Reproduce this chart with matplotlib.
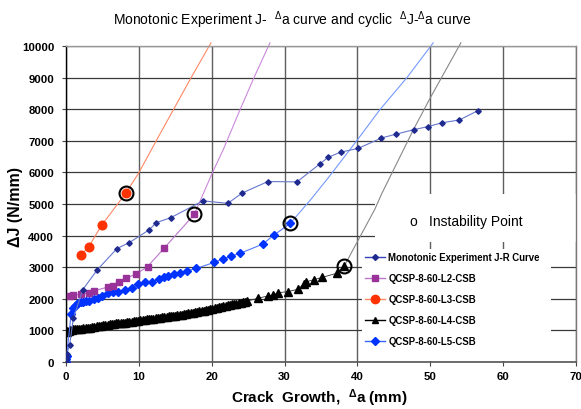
import matplotlib
matplotlib.use("Agg")
import matplotlib.pyplot as plt
from matplotlib.lines import Line2D
from matplotlib.patches import Rectangle

plt.rcParams['font.family'] = ['Liberation Sans', 'DejaVu Sans']
plt.rcParams['mathtext.fontset'] = 'custom'
plt.rcParams['mathtext.rm'] = 'Liberation Sans'
plt.rcParams['mathtext.bf'] = 'Liberation Sans:bold'
plt.rcParams['mathtext.it'] = 'Liberation Sans:italic'

# ---------------- data ----------------
x_ticks = [0, 10, 20, 30, 40, 50, 60, 70]
y_ticks = [0, 1000, 2000, 3000, 4000, 5000, 6000, 7000, 8000, 9000, 10000]

series_labels = ["Monotonic Experiment J-R Curve", "QCSP-8-60-L2-CSB",
                 "QCSP-8-60-L3-CSB", "QCSP-8-60-L4-CSB", "QCSP-8-60-L5-CSB"]

mono_x = [0.0, 0.0, 0.0, 0.1, 0.5, 1.0, 2.3, 4.3, 7.0, 8.7, 11.4, 12.4, 14.4,
          18.8, 22.2, 24.2, 27.7, 31.7, 34.9, 36.0, 37.7, 40.1, 43.3, 45.3,
          47.7, 49.7, 51.6, 54.0, 56.5]
mono_y = [0, 80, 160, 260, 530, 1380, 2290, 2920, 3590, 3780, 4180, 4410, 4570,
          5100, 5020, 5350, 5710, 5700, 6280, 6480, 6640, 6760, 7090, 7210,
          7350, 7450, 7570, 7660, 7950]

l2_x = [0.6, 1.0, 2.0, 3.1, 3.8, 5.7, 6.5, 7.3, 8.2, 9.6, 11.2, 13.5, 17.6]
l2_y = [2100, 2120, 2140, 2180, 2250, 2370, 2410, 2520, 2650, 2780, 3020, 3610, 4670]
l2_ext_x = [17.6, 20.0, 21.6, 23.9, 25.9, 28.0]
l2_ext_y = [4670, 5940, 6730, 7990, 9050, 10100]

l3_x = [2.0, 3.1, 4.9, 8.2]
l3_y = [3380, 3640, 4330, 5340]
l3_ext_x = [8.2, 10.0, 12.5, 17.3, 19.9]
l3_ext_y = [5340, 5990, 7050, 9050, 10100]

l4_x = [0.1, 0.2, 0.4, 0.6, 0.8, 1.0, 1.2, 1.5, 1.8, 2.1, 2.4, 2.7, 3.0, 3.3,
        3.6, 3.9, 4.2, 4.5, 4.8, 5.1, 5.4, 5.7, 6.0, 6.3, 6.6, 6.9, 7.2, 7.5,
        7.8, 8.1, 8.4, 8.7, 9.0, 9.3, 9.6, 9.9, 10.2, 10.5, 10.8, 11.1, 11.4,
        11.7, 12.0, 12.3, 12.6, 12.9, 13.2, 13.5, 13.8, 14.1, 14.4, 14.7, 15.0,
        15.3, 15.6, 15.9, 16.2, 16.5, 16.8, 17.1, 17.4, 17.7, 18.0, 18.3, 18.6,
        18.9, 19.2, 19.5, 19.8, 20.1, 20.4, 20.7, 21.0, 21.3, 21.6, 21.9, 22.2,
        22.5, 22.8, 23.1, 23.4, 23.7, 24.0, 24.3, 24.6, 24.9, 26.4, 27.7, 28.4,
        29.1, 30.5, 31.8, 32.6, 33.0, 34.1, 35.2, 37.2, 38.2]
l4_y = [940, 970, 990, 1000, 1010, 1030, 1030, 1040, 1050, 1060, 1070, 1080,
        1090, 1090, 1110, 1120, 1130, 1140, 1150, 1160, 1160, 1180, 1190, 1200,
        1210, 1220, 1220, 1240, 1250, 1250, 1270, 1280, 1280, 1300, 1300, 1310,
        1320, 1330, 1340, 1350, 1350, 1370, 1370, 1380, 1400, 1400, 1410, 1430,
        1430, 1440, 1450, 1460, 1470, 1480, 1490, 1500, 1510, 1520, 1540, 1550,
        1560, 1570, 1580, 1600, 1610, 1620, 1640, 1650, 1670, 1680, 1700, 1710,
        1730, 1740, 1760, 1770, 1790, 1810, 1820, 1840, 1850, 1870, 1880, 1900,
        1910, 1930, 2020, 2090, 2120, 2190, 2230, 2300, 2460, 2540, 2610, 2680,
        2810, 3040]
l4_ext_x = [38.2, 42.4, 43.3, 47.7, 50.0, 54.2]
l4_ext_y = [3040, 4840, 5310, 7360, 8360, 10100]

l5_x = [0.0, 0.0, 0.1, 0.7, 0.9, 1.2, 1.5, 1.7, 2.0, 2.4, 2.7, 3.1, 3.8, 4.4,
        5.0, 5.8, 6.5, 7.2, 8.1, 9.0, 9.9, 10.8, 11.8, 12.7, 13.4, 14.0, 14.8,
        15.7, 16.6, 17.9, 20.3, 21.5, 22.7, 23.9, 27.0, 28.5, 30.8]
l5_y = [0, 100, 200, 1520, 1700, 1780, 1830, 1860, 1890, 1910, 1920, 1940,
        1990, 2040, 2100, 2180, 2200, 2220, 2280, 2350, 2470, 2520, 2540, 2620,
        2680, 2730, 2780, 2830, 2890, 2960, 3150, 3260, 3360, 3440, 3730, 4010,
        4390]
l5_ext_x = [30.8, 33.7, 36.2, 39.9, 43.1, 46.8, 50.4]
l5_ext_y = [4390, 5170, 5890, 7000, 7990, 9000, 10100]

# ---------------- figure ----------------
fig = plt.figure(figsize=(5.81, 4.10), dpi=100)
ax = fig.add_axes([66 / 581, 47 / 410, 510 / 581, 316 / 410])
ax.set_xlim(0, 70)
ax.set_ylim(0, 10000)
ax.set_xticks(x_ticks)
ax.set_yticks(y_ticks)
ax.set_axisbelow(True)
ax.grid(axis='y', color='#3a3a3a', lw=0.9)
ax.grid(axis='x', color='#5e5e5e', lw=1.0)

for side, col, lw in [('left', '#000000', 1.0), ('bottom', '#555555', 1.2),
                      ('top', '#999999', 1.0), ('right', '#777777', 1.0)]:
    ax.spines[side].set_color(col)
    ax.spines[side].set_linewidth(lw)

ax.tick_params(axis='both', length=3, width=0.8, color='#444444',
               labelsize=8.2, direction='out')
ax.tick_params(axis='x', pad=3.2)
ax.tick_params(axis='y', pad=5.5)
for lab in ax.get_xticklabels() + ax.get_yticklabels():
    lab.set_fontweight('bold')

# white panels for the annotation and the legend
ax.add_patch(Rectangle((0.606, 0.380), 0.394, 0.152, transform=ax.transAxes,
                       facecolor='white', edgecolor='none', zorder=1))
ax.add_patch(Rectangle((0.580, 0.003), 0.371, 0.355, transform=ax.transAxes,
                       facecolor='white', edgecolor='none', zorder=1))

# extrapolated continuation of each cyclic curve
ax.plot(l2_ext_x, l2_ext_y, color='#cc88dd', lw=0.8, zorder=2, clip_on=False)
ax.plot(l3_ext_x, l3_ext_y, color='#ff8866', lw=0.8, zorder=2, clip_on=False)
ax.plot(l4_ext_x, l4_ext_y, color='#888888', lw=0.8, zorder=2, clip_on=False)
ax.plot(l5_ext_x, l5_ext_y, color='#7799ff', lw=0.8, zorder=2, clip_on=False)

# measured curves
ax.plot(l4_x, l4_y, color='#333333', lw=0.6, marker='^', ms=5.6,
        mfc='black', mec='black', zorder=3)
ax.plot(l5_x, l5_y, color='#5577ff', lw=0.8, marker='D', ms=4.4,
        mfc='#0033ff', mec='#0033ff', zorder=3)
ax.plot(l2_x, l2_y, color='#bb77cc', lw=0.8, marker='s', ms=4,
        mfc='#993399', mec='#993399', zorder=3)
ax.plot(l3_x, l3_y, color='#ff8866', lw=0.8, marker='o', ms=6.2,
        mfc='#ff3300', mec='#ff3300', zorder=3)
ax.plot(mono_x, mono_y, color='#6677cc', lw=0.8, marker='D', ms=2.8,
        mfc='#1f2a8f', mec='#1f2a8f', zorder=4)

# instability points
inst_x = [l3_x[-1], l2_x[-1], l5_x[-1], l4_x[-1]]
inst_y = [l3_y[-1], l2_y[-1], l5_y[-1], l4_y[-1]]
ax.plot(inst_x, inst_y, linestyle='none', marker='o', ms=10, mfc='none',
        mec='black', mew=1.5, zorder=5)

ax.text(0.680, 0.446, 'o', transform=ax.transAxes, fontsize=10,
        ha='center', va='center', zorder=6)
ax.text(0.712, 0.446, 'Instability Point', transform=ax.transAxes,
        fontsize=10, ha='left', va='center', zorder=6)

handles = [
    Line2D([], [], color='#3344bb', lw=1.0, marker='D', ms=3, mfc='#1f2a8f', mec='#1f2a8f'),
    Line2D([], [], color='#bb77cc', lw=1.0, marker='s', ms=4, mfc='#993399', mec='#993399'),
    Line2D([], [], color='#ff8866', lw=1.0, marker='o', ms=6, mfc='#ff3300', mec='#ff3300'),
    Line2D([], [], color='black', lw=1.0, marker='^', ms=5, mfc='black', mec='black'),
    Line2D([], [], color='#3366ff', lw=1.0, marker='D', ms=4, mfc='#0033ff', mec='#0033ff'),
]
leg = ax.legend(handles, series_labels, loc='upper left',
                bbox_to_anchor=((362 - 66) / 510, (363 - 250) / 316),
                frameon=False, prop={'size': 6.9, 'weight': 'bold'},
                handlelength=2.1, handletextpad=0.35, labelspacing=1.15,
                borderpad=0.3, borderaxespad=0, numpoints=1)
leg.set_zorder(6)

fig.text(292 / 581, 1 - 20.5 / 410,
         r'Monotonic Experiment J-  $^{\Delta}$a curve and cyclic  $^{\Delta}$J-$^{\Delta}$a curve',
         ha='center', va='center', fontsize=10)
fig.text(15.8 / 581, 1 - 207.5 / 410, 'ΔJ (N/mm)', rotation=90,
         ha='center', va='center', fontsize=11.5, fontweight='bold')
fig.text(319 / 581, 1 - 398.6 / 410,
         r'Crack  Growth,  $\mathbf{^{\Delta}}$a (mm)',
         ha='center', va='center', fontsize=11, fontweight='bold')

fig.savefig('out.png', dpi=100)
